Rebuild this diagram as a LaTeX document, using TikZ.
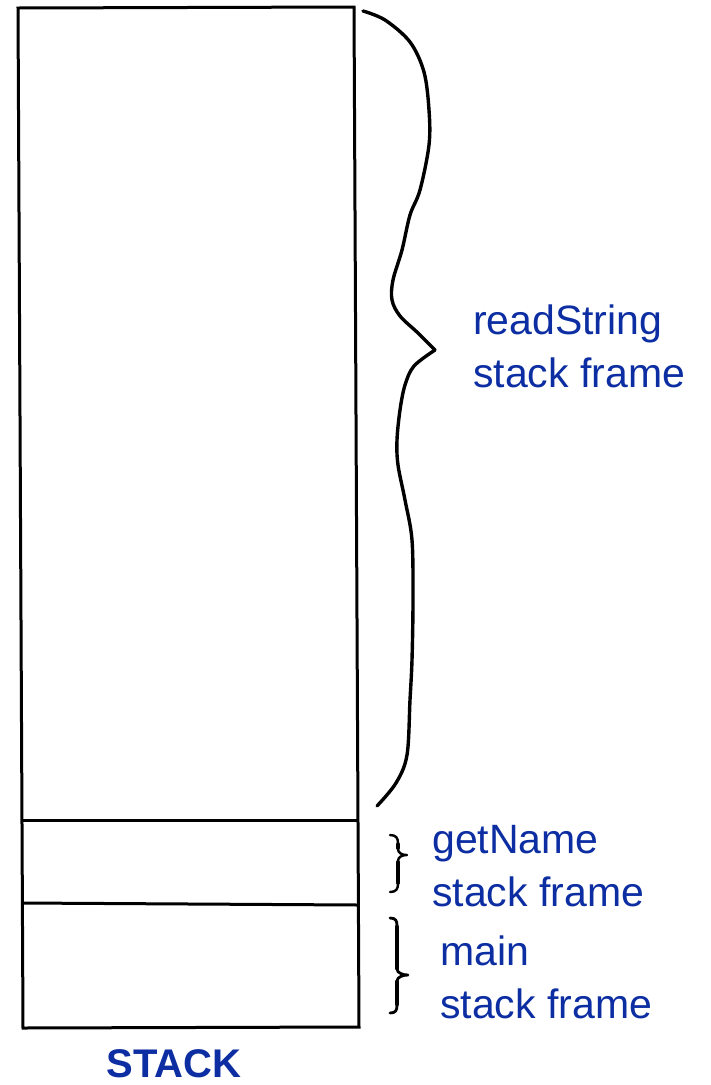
\documentclass[tikz,border=0pt]{standalone}
\usepackage{fontspec}
\setmainfont{Liberation Sans}
\definecolor{labelblue}{RGB}{12,46,162}
\tikzset{
  frameline/.style={line width=3pt, black, line join=miter},
  bracepath/.style={line width=3.4pt, black, line cap=round, line join=round},
  framelabel/.style={anchor=base west, align=left, inner sep=0pt, text=labelblue,
    font=\fontsize{41}{53}\selectfont},
  stacktitle/.style={anchor=base, inner sep=0pt, text=labelblue,
    font=\bfseries\fontsize{40}{48}\selectfont}
}
% small serif-like curly brace: left end x, top y, tip y, bottom y, stem x, tip x,
% thin and thick stroke widths
\newcommand\framebrace[8]{%
  \draw[bracepath, line width=#7] (#1,#2) .. controls (#1+6,#2) and (#5,#2+3) .. (#5,#2+8)
    -- (#5,#3-6) .. controls (#5,#3-2) and (#6-5,#3) .. (#6,#3)
    .. controls (#6-5,#3) and (#5,#3+2) .. (#5,#3+6)
    -- (#5,#4-8) .. controls (#5,#4-3) and (#1+6,#4) .. (#1,#4);
  \draw[bracepath, line width=#8] (#5,#2+9) -- (#5,#3-7);
  \draw[bracepath, line width=#8] (#5,#3+7) -- (#5,#4-9);}
\begin{document}
\begin{tikzpicture}[x=1pt,y=-1pt]
\useasboundingbox (0,0) rectangle (710,1085);
\fill[white] (0,0) rectangle (710,1085);

% the stack column and its frame boundaries
\coordinate (tl) at (18,8);
\coordinate (tr) at (354,7);
\coordinate (br) at (359,1027);
\coordinate (bl) at (23,1028);
\coordinate (d1l) at (21,820);
\coordinate (d1r) at (358,820);
\coordinate (d2l) at (22,903);
\coordinate (d2r) at (358,905);
\draw[frameline] (tl) -- (tr) -- (br) -- (bl) -- cycle;
\draw[frameline] (d1l) -- (d1r);
\draw[frameline] (d2l) -- (d2r);

% large hand-drawn brace for the readString frame
\draw[bracepath] plot[smooth, tension=0.55] coordinates {
  (363,11) (385,20) (410,42) (424,72) (429,110) (429,145) (420,190) (410,215)
  (402,250) (393,280) (392,300) (400,316) (418,333) (435,350)};
\draw[bracepath] plot[smooth, tension=0.55] coordinates {
  (435,350) (414,366) (405,385) (400,410) (397,440) (398,465) (405,500)
  (412,540) (413,600) (412,660) (410,700) (407,755) (396,783) (377,806)};

% small braces for getName and main
\framebrace{390}{835}{855}{892}{398}{407}{2.4pt}{3.6pt}
\framebrace{390}{918}{975}{1013}{397}{408}{2.8pt}{4.6pt}

% labels (base anchor sits on the last line's baseline)
\node[framelabel] (rs) at (473,387) {readString\\stack frame};
\node[framelabel] (gn) at (432,906) {getName\\stack frame};
\node[framelabel] (mn) at (440,1018) {main\\stack frame};
\node[stacktitle] (st) at (174,1077) {STACK};
\end{tikzpicture}
\end{document}
